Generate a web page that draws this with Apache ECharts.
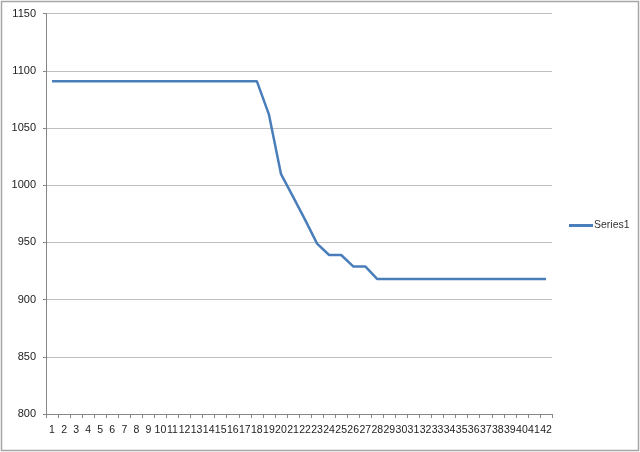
<!DOCTYPE html>
<html><head><meta charset="utf-8">
<script src="https://cdn.jsdelivr.net/npm/echarts@6/dist/echarts.min.js"></script>
<style>html,body{margin:0;padding:0;background:#fff}#c{width:640px;height:452px}</style>
</head><body><div id="c"></div>
<script>
const categories = Array.from({length: 42}, (_, i) => String(i + 1));
const series1 = [1091,1091,1091,1091,1091,1091,1091,1091,1091,1091,1091,1091,1091,1091,1091,1091,1091,1091,
  1062,1010,990,970,949,939,939,929,929,918,918,918,918,918,918,918,918,918,918,918,918,918,918,918];
const yMin = 800, yMax = 1150, yStep = 50;
const seriesName = 'Series1';

const chart = echarts.init(document.getElementById('c'), null, {renderer: 'canvas'});
chart.setOption({
  animation: false,
  backgroundColor: '#fff',
  graphic: [{type: 'rect', shape: {x: 1.5, y: 1.5, width: 637, height: 449},
    style: {fill: 'none', stroke: '#a6a6a6', lineWidth: 1.5}, silent: true}],
  grid: {left: 46, right: 88, top: 13.7, bottom: 38, containLabel: false},
  legend: {
    data: [seriesName], left: 569, top: 220, orient: 'vertical', padding: 0,
    icon: 'path://M0,0 L24,0 L24,3 L0,3 Z', itemWidth: 24, itemHeight: 3, itemGap: 2,
    textStyle: {fontFamily: 'Liberation Sans', fontSize: 10.5, color: '#333', padding: [0,0,0,-4]}
  },
  xAxis: {
    type: 'category', data: categories, boundaryGap: true,
    axisLine: {lineStyle: {color: '#868686', width: 1}},
    axisTick: {show: true, length: 4, interval: 0, alignWithLabel: false, lineStyle: {color: '#868686'}},
    axisLabel: {interval: 0, fontFamily: 'Liberation Sans', fontSize: 10.5, color: '#222', margin: 11}
  },
  yAxis: {
    type: 'value', min: yMin, max: yMax, interval: yStep,
    axisLine: {show: true, lineStyle: {color: '#868686', width: 1}},
    axisTick: {show: true, length: 3, lineStyle: {color: '#868686'}},
    splitLine: {lineStyle: {color: '#c0c0c0', width: 1}},
    axisLabel: {fontFamily: 'Liberation Sans', fontSize: 11, color: '#222', margin: 10,
      formatter: v => String(v)}
  },
  series: [{
    name: seriesName, type: 'line', data: series1, symbol: 'none',
    lineStyle: {color: '#4a7ebb', width: 2.5}, itemStyle: {color: '#4a7ebb'}
  }]
});
</script></body></html>
